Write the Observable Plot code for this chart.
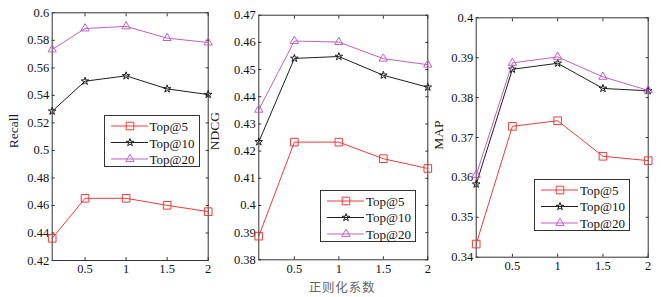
<!DOCTYPE html>
<html>
<head>
<meta charset="utf-8">
<script src="https://cdn.jsdelivr.net/npm/d3@7"></script>
<script src="https://cdn.jsdelivr.net/npm/@observablehq/plot@0.6"></script>
<style>
  html, body { margin: 0; padding: 0; background: #fff; }
  #wrap { position: relative; width: 661px; height: 297px; overflow: hidden; background: #fff; font-family: 'Liberation Serif', serif; }
  .panel { position: absolute; top: 0; }
  .ylab { position: absolute; font-family: 'Liberation Serif', serif; font-size: 13.5px; color: #222; transform: translate(-50%, -50%) rotate(-90deg); white-space: nowrap; }
  .xlab { position: absolute; font-family: 'Noto Sans CJK SC', sans-serif; font-size: 12.5px; color: #666; transform: translate(-50%, -50%); white-space: nowrap; letter-spacing: 0.8px; }
  .legend { position: absolute; width: 96px; height: 52px; border: 1px solid #333; background: #fff; box-sizing: border-box; }
  .legrow { position: absolute; left: 45px; font-family: 'Liberation Serif', serif; font-size: 13px; color: #111; line-height: 1; transform: translateY(-50%); white-space: nowrap; }
</style>
</head>
<body>
<div id="wrap"></div>
<script>
// ---- data ----
const params = [0.1, 0.5, 1, 1.5, 2];
const seriesNames = ["Top@5", "Top@10", "Top@20"];
const xTicks = [0.5, 1, 1.5, 2];

const recall5  = [0.4361, 0.4652, 0.4652, 0.4601, 0.4555];
const recall10 = [0.5285, 0.5503, 0.5542, 0.5447, 0.5406];
const recall20 = [0.5733, 0.5886, 0.5901, 0.5816, 0.5784];
const recallTicks = [0.42, 0.44, 0.46, 0.48, 0.5, 0.52, 0.54, 0.56, 0.58, 0.6];

const ndcg5  = [0.3887, 0.4233, 0.4233, 0.4172, 0.4136];
const ndcg10 = [0.4234, 0.4541, 0.4548, 0.4479, 0.4435];
const ndcg20 = [0.4352, 0.4605, 0.4601, 0.4540, 0.4518];
const ndcgTicks = [0.38, 0.39, 0.40, 0.41, 0.42, 0.43, 0.44, 0.45, 0.46, 0.47];

const map5  = [0.3433, 0.3728, 0.3742, 0.3653, 0.3642];
const map10 = [0.3583, 0.3871, 0.3886, 0.3823, 0.3817];
const map20 = [0.3606, 0.3887, 0.3902, 0.3852, 0.3818];
const mapTicks = [0.34, 0.35, 0.36, 0.37, 0.38, 0.39, 0.40];

const yLabels = ["Recall", "NDCG", "MAP"];
const xLabel = "正则化系数";

// ---- styles ----
const colors = ["#f03a3a", "#1e1e1e", "#c060c0"];
const symbols = ["square", "star", "triangle"];
const radii = [4.3, 2.4, 3.1];
const fmt = d => String(+(+d).toFixed(2));

function toRows(arrs) {
  const rows = [];
  arrs.forEach((vals, si) => vals.forEach((v, i) => rows.push({x: params[i], y: v, s: si})));
  return rows;
}

function panel(arrs, yTicks, width, ml, mr, mt, mb) {
  const rows = toRows(arrs);
  const marks = [
    Plot.frame({stroke: "#333", strokeWidth: 1}),
    Plot.axisX(xTicks, {anchor: "bottom", tickSize: 0, tickPadding: 4, tickFormat: fmt, label: null}),
    Plot.axisX(xTicks, {anchor: "bottom", tickSize: -3, fill: "none", stroke: "#333"}),
    Plot.axisX(xTicks, {anchor: "top", tickSize: -3, fill: "none", stroke: "#333"}),
    Plot.axisY(yTicks, {anchor: "left", tickSize: 0, tickPadding: 3, tickFormat: fmt, label: null}),
    Plot.axisY(yTicks, {anchor: "left", tickSize: -3, fill: "none", stroke: "#333"}),
    Plot.axisY(yTicks, {anchor: "right", tickSize: -3, fill: "none", stroke: "#333"})
  ];
  [0, 1, 2].forEach(si => {
    const d = rows.filter(r => r.s === si);
    marks.push(Plot.line(d, {x: "x", y: "y", stroke: colors[si], strokeWidth: 1}));
    marks.push(Plot.dot(d, {x: "x", y: "y", symbol: symbols[si], r: radii[si], stroke: colors[si], fill: "none", strokeWidth: 1}));
  });
  return Plot.plot({
    width, height: 297,
    marginLeft: ml, marginRight: mr, marginTop: mt, marginBottom: mb,
    style: {background: "transparent", overflow: "visible", fontFamily: "'Liberation Serif', serif", fontSize: "12.5px", color: "#111"},
    x: {domain: [0.1, 2], label: null},
    y: {domain: [yTicks[0], yTicks[yTicks.length - 1]], label: null},
    marks
  });
}

const wrap = document.getElementById("wrap");
const panels = [
  {arrs: [recall5, recall10, recall20], ticks: recallTicks, left: 0, width: 220, ml: 51.7, mr: 12.3, mt: 12.3, mb: 37},
  {arrs: [ndcg5, ndcg10, ndcg20], ticks: ndcgTicks, left: 220, width: 220, ml: 38.3, mr: 12.7, mt: 14.7, mb: 37.7},
  {arrs: [map5, map10, map20], ticks: mapTicks, left: 440, width: 221, ml: 35.7, mr: 13.3, mt: 17.3, mb: 40.3}
];
panels.forEach(p => {
  const div = document.createElement("div");
  div.className = "panel";
  div.style.left = p.left + "px";
  div.style.width = p.width + "px";
  div.appendChild(panel(p.arrs, p.ticks, p.width, p.ml, p.mr, p.mt, p.mb));
  wrap.appendChild(div);
});

// axis titles
const ylabPos = [[13.5, 131], [215, 131], [438.5, 135]];
yLabels.forEach((t, i) => {
  const el = document.createElement("div");
  el.className = "ylab";
  el.textContent = t;
  el.style.left = ylabPos[i][0] + "px";
  el.style.top = ylabPos[i][1] + "px";
  wrap.appendChild(el);
});
const xl = document.createElement("div");
xl.className = "xlab";
xl.textContent = xLabel;
xl.style.left = "342px";
xl.style.top = "285.5px";
wrap.appendChild(xl);

// legends
const legendPos = [[103.5, 115], [320, 189.5], [534, 178.5]];
const symMap = {square: d3.symbolSquare, star: d3.symbolStar, triangle: d3.symbolTriangle};
legendPos.forEach(([lx, ly]) => {
  const box = document.createElement("div");
  box.className = "legend";
  box.style.left = lx + "px";
  box.style.top = ly + "px";
  const svg = d3.create("svg").attr("width", 46).attr("height", 52).style("position", "absolute").style("left", "-1px").style("top", "-1px");
  seriesNames.forEach((name, i) => {
    const yy = 11 + i * 16.5;
    svg.append("line").attr("x1", 7).attr("x2", 44).attr("y1", yy).attr("y2", yy).attr("stroke", colors[i]).attr("stroke-width", 1);
    svg.append("path").attr("transform", `translate(26,${yy})`)
      .attr("d", d3.symbol(symMap[symbols[i]], Math.PI * radii[i] * radii[i])())
      .attr("fill", "none").attr("stroke", colors[i]).attr("stroke-width", 1);
    const t = document.createElement("div");
    t.className = "legrow";
    t.style.top = (yy - 1) + "px";
    t.textContent = name;
    box.appendChild(t);
  });
  box.appendChild(svg.node());
  wrap.appendChild(box);
});
</script>
</body>
</html>
